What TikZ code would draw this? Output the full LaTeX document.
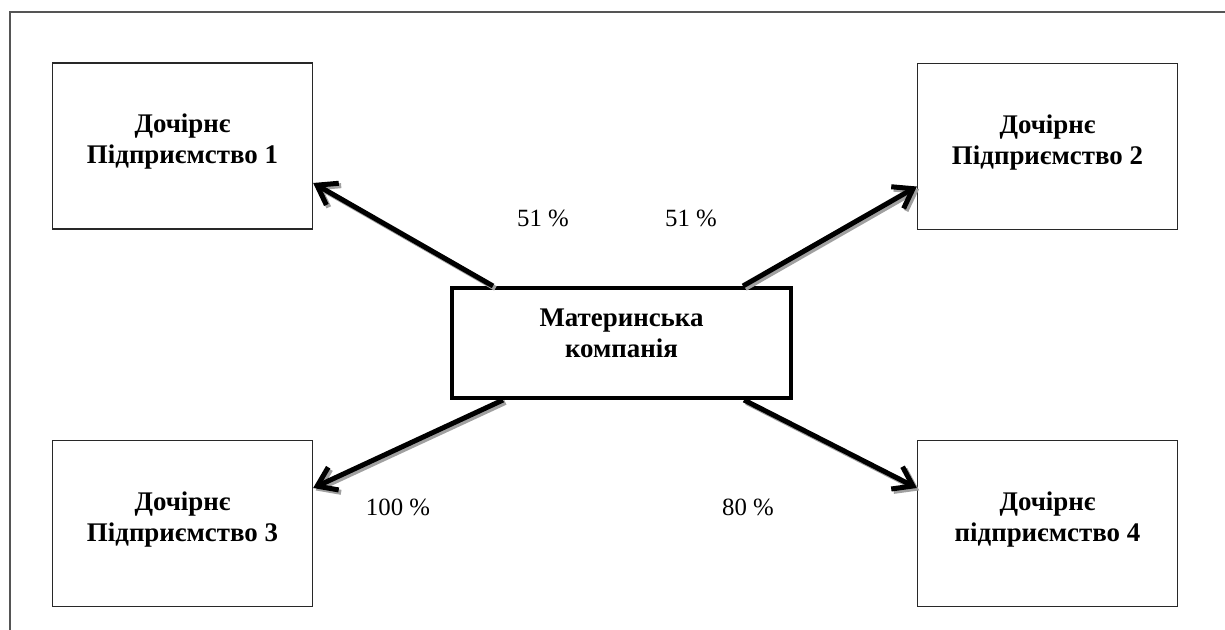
\documentclass[tikz,border=0pt]{standalone}
\usepackage{fontspec}
\setmainfont{Liberation Serif}
\usetikzlibrary{
    arrows.meta
}
\definecolor{framegray}{RGB}{85,85,85}
\definecolor{boxline}{RGB}{40,40,40}
\definecolor{shadowgray}{RGB}{160,160,160}

\begin{document}
\begin{tikzpicture}[
        x=0.5pt, y=-0.5pt,
        sub/.style={
            draw=boxline,
            line width=0.65pt,
            align=center,
            minimum width=130pt,
            minimum height=83pt,
            text depth=7pt,
            font=\fontsize{13.45}{15.5}\selectfont\bfseries
        },
        parent/.style={
            sub,
            draw=black,
            line width=2pt,
            minimum width=169.5pt,
            minimum height=55pt,
            text depth=10pt
        },
        share/.style={
            font=\fontsize{12.4}{14}\selectfont,
            inner sep=0pt
        },
        link/.style={
            -{Straight Barb[length=9pt,width=12.5pt]},
            line width=2.5pt
        },
        linkshadow/.style={
            link,
            draw=shadowgray
        }
    ]

    \useasboundingbox (0,0) rectangle (1225,630);
    \draw[framegray, line width=0.65pt] (10,640) -- (10,12) -- (1240,12);

    \node[sub] (sub1) at (182.5,146) {Дочірнє\\Підприємство 1};
    \node[sub] (sub2) at (1047.5,146.5) {Дочірнє\\Підприємство 2};
    \node[sub] (sub3) at (182.5,523.5) {Дочірнє\\Підприємство 3};
    \node[sub] (sub4) at (1047.5,523.5) {Дочірнє\\підприємство 4};

    \node[parent] (mother) at (621.5,343) {Материнська\\компанія};

    \node[share] (share1) at (543,218) {51 \%};
    \node[share] (share2) at (691,218) {51 \%};
    \node[share] (share3) at (398,507) {100 \%};
    \node[share] (share4) at (748,507) {80 \%};

    \coordinate (out1) at ([xshift=21.5pt]mother.north west);
    \coordinate (out2) at ([xshift=-25pt]mother.north east);
    \coordinate (out3) at ([xshift=26.5pt]mother.south west);
    \coordinate (out4) at ([xshift=-24.5pt]mother.south east);
    \coordinate (in1) at ([yshift=-18.5pt]sub1.east);
    \coordinate (in2) at ([yshift=-20pt]sub2.west);
    \coordinate (in3) at ([yshift=17.75pt]sub3.east);
    \coordinate (in4) at ([yshift=17.75pt]sub4.west);

    \foreach \i in {1,...,4} {
        \draw[linkshadow] ([shift={(1.2pt,-1.2pt)}]out\i) -- ([shift={(1.2pt,-1.2pt)}]in\i);
        \draw[link] (out\i) -- (in\i);
    }

\end{tikzpicture}
\end{document}
